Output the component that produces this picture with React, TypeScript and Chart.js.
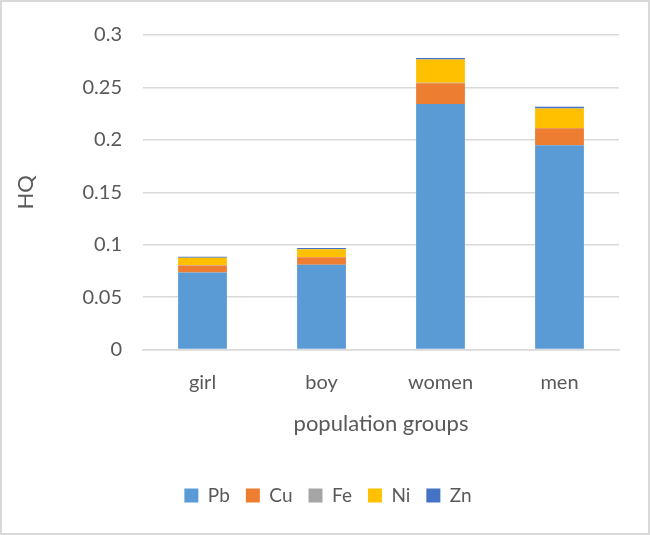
import React, { useEffect, useRef } from "react";
import { Chart, registerables } from "chart.js";

Chart.register(...registerables);

const categories = ["girl", "boy", "women", "men"];
const pb = [0.0735, 0.081, 0.2342, 0.1948];
const cu = [0.0068, 0.007, 0.0199, 0.0162];
const fe = [0.0003, 0.0003, 0.0003, 0.0003];
const ni = [0.0071, 0.0073, 0.0222, 0.0187];
const zn = [0.0009, 0.0012, 0.0014, 0.0016];
const yTicks = [0, 0.05, 0.1, 0.15, 0.2, 0.25, 0.3];

const FONT = "Lato, 'Open Sans', 'Liberation Sans', sans-serif";
const GREY = "#595959";

const legendShift = {
  id: "legendShift",
  afterLayout(chart: any) {
    if (chart.legend) {
      chart.legend.left += 12;
      chart.legend.right += 12;
    }
  },
};

export default function App() {
  const ref = useRef<HTMLCanvasElement>(null);
  useEffect(() => {
    if (!ref.current) return;
    const mk = (label: string, data: number[], color: string) => ({
      label,
      data,
      backgroundColor: color,
      borderWidth: 0,
      barPercentage: 0.82,
      categoryPercentage: 0.5,
    });
    const chart = new Chart(ref.current, {
      type: "bar",
      data: {
        labels: categories,
        datasets: [
          mk("Pb", pb, "#5b9bd5"),
          mk("Cu", cu, "#ed7d31"),
          mk("Fe", fe, "#a5a5a5"),
          mk("Ni", ni, "#ffc000"),
          mk("Zn", zn, "#4472c4"),
        ],
      },
      plugins: [legendShift],
      options: {
        animation: false,
        responsive: false,
        maintainAspectRatio: false,
        layout: { padding: { left: 11, right: 29, top: 24, bottom: 18 } },
        plugins: {
          legend: {
            position: "bottom",
            labels: {
              boxWidth: 14,
              boxHeight: 14,
              padding: 16,
              color: GREY,
              font: { family: FONT, size: 19 },
            },
          },
          tooltip: { enabled: false },
        },
        scales: {
          x: {
            stacked: true,
            grid: { display: false },
            border: { display: true, color: "#d9d9d9", width: 1.5 },
            ticks: { color: GREY, font: { family: FONT, size: 20 }, padding: 13 },
            title: {
              display: true,
              text: "population groups",
              color: GREY,
              font: { family: FONT, size: 22 },
              padding: { top: 3, bottom: 33 },
            },
          },
          y: {
            stacked: true,
            min: 0,
            max: 0.3,
            afterBuildTicks: (axis: any) => {
              axis.ticks = yTicks.map((v) => ({ value: v }));
            },
            afterFit: (axis: any) => {
              axis.width = 130;
            },
            grid: { color: "#d9d9d9", lineWidth: 1.5, drawTicks: false },
            border: { display: false },
            ticks: {
              color: GREY,
              font: { family: FONT, size: 20 },
              padding: 21,
              callback: (v: any) => String(Number(v)),
            },
            title: {
              display: true,
              text: "HQ",
              color: GREY,
              font: { family: FONT, size: 22 },
              padding: { top: 0, bottom: 0 },
            },
          },
        },
      },
    });
    return () => chart.destroy();
  }, []);
  return (
    <div
      style={{
        position: "fixed",
        left: 0,
        top: 0,
        width: 650,
        height: 535,
        boxSizing: "border-box",
        border: "2px solid #d9d9d9",
        background: "#fff",
      }}
    >
      <canvas ref={ref} width={646} height={531} style={{ display: "block" }} />
    </div>
  );
}
